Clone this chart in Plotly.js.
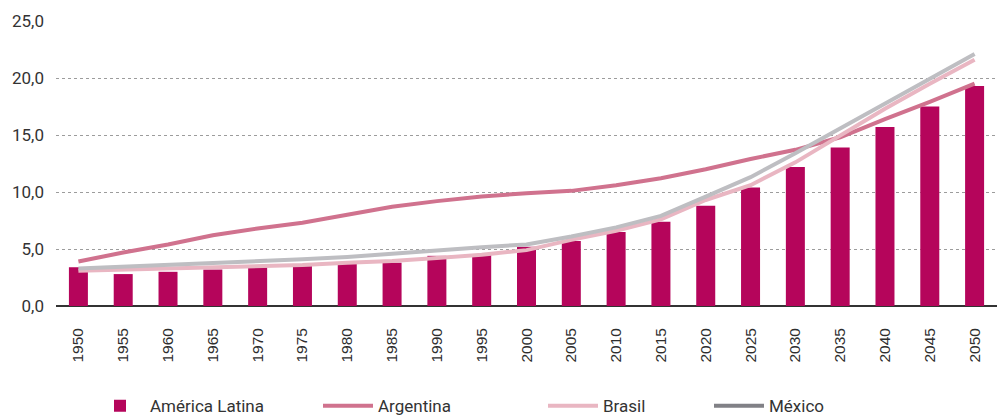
<!DOCTYPE html>
<html>
<head>
<meta charset="utf-8">
<script src="https://cdn.plot.ly/plotly-3.0.1.min.js"></script>
<style>
  html, body { margin: 0; padding: 0; background: #fff; }
  #chart { width: 997px; height: 418px; }
</style>
</head>
<body>
<div id="chart"></div>
<script>
const years = ["1950","1955","1960","1965","1970","1975","1980","1985","1990","1995","2000",
               "2005","2010","2015","2020","2025","2030","2035","2040","2045","2050"];
const americaLatina = [3.4, 2.8, 3.0, 3.2, 3.4, 3.5, 3.7, 3.8, 4.4, 4.5, 5.2,
                       5.7, 6.5, 7.4, 8.8, 10.4, 12.2, 13.9, 15.7, 17.5, 19.3];
const argentina = [3.9, 4.7, 5.4, 6.2, 6.8, 7.3, 8.0, 8.7, 9.2, 9.6, 9.9,
                   10.1, 10.6, 11.2, 12.0, 12.9, 13.7, 14.8, 16.4, 17.9, 19.5];
const brasil = [3.1, 3.2, 3.3, 3.4, 3.5, 3.6, 3.8, 3.95, 4.2, 4.5, 4.9,
                5.8, 6.6, 7.6, 9.3, 10.6, 12.6, 15.0, 17.3, 19.5, 21.6];
const mexico = [3.3, 3.45, 3.6, 3.75, 3.9, 4.1, 4.3, 4.6, 4.9, 5.15, 5.4,
                6.1, 6.9, 7.9, 9.6, 11.3, 13.4, 15.6, 17.8, 20.0, 22.1];
const seriesNames = ["América Latina", "Argentina", "Brasil", "México"];

const COLORS = { al: "#B5055B", ar: "#D0728E", br: "#E9B6C2", mx: "#BEBEC2", mxLegend: "#818186" };

const traces = [
  { type: "bar", x: years, y: americaLatina, name: seriesNames[0],
    marker: { color: COLORS.al }, legend: "legend" },
  { type: "scatter", mode: "lines", x: years, y: argentina, name: seriesNames[1],
    line: { color: COLORS.ar, width: 4 }, legend: "legend2" },
  { type: "scatter", mode: "lines", x: years, y: brasil, name: seriesNames[2],
    line: { color: COLORS.br, width: 4 }, legend: "legend3" },
  { type: "scatter", mode: "lines", x: years, y: mexico, name: seriesNames[3],
    line: { color: COLORS.mx, width: 4 }, showlegend: false, legendgroup: "mx" },
  { type: "scatter", mode: "lines", x: [null], y: [null], name: seriesNames[3],
    line: { color: COLORS.mxLegend, width: 4 }, legend: "legend4", legendgroup: "mx", hoverinfo: "skip" }
];

const legendFont = { family: "Roboto, Arial, sans-serif", size: 17, color: "#333" };
function legendAt(xpx) {
  return { orientation: "h", xref: "container", yref: "container", x: xpx / 997, y: 0.028,
           xanchor: "left", yanchor: "middle", font: legendFont, bgcolor: "rgba(0,0,0,0)",
           itemwidth: 50, tracegroupgap: 0 };
}

const layout = {
  width: 997, height: 418,
  margin: { l: 56, r: 0, t: 21, b: 112 },
  paper_bgcolor: "#fff", plot_bgcolor: "#fff",
  separators: ",.",
  bargap: 0.576,
  showlegend: true,
  legend: legendAt(90),
  legend2: legendAt(318),
  legend3: legendAt(543),
  legend4: legendAt(709),
  xaxis: {
    type: "category",
    tickangle: -90,
    tickfont: { family: "Liberation Sans, Arial, sans-serif", size: 15.5, color: "#2e2e2e" },
    ticks: "", ticklabelstandoff: 18,
    showgrid: false, zeroline: false, showline: false,
    range: [-0.5, 20.5], fixedrange: true
  },
  yaxis: {
    range: [0, 25], dtick: 5, tick0: 0, tickformat: ".1f",
    tickfont: { family: "Roboto, Arial, sans-serif", size: 17, color: "#333" },
    ticks: "", ticklabelstandoff: 11,
    showgrid: true, gridcolor: "#9c9c9c", griddash: "dot", gridwidth: 1,
    zeroline: true, zerolinecolor: "#333", zerolinewidth: 2,
    showline: false, fixedrange: true
  }
};

Plotly.newPlot("chart", traces, layout, { displayModeBar: false, staticPlot: true });
</script>
</body>
</html>
